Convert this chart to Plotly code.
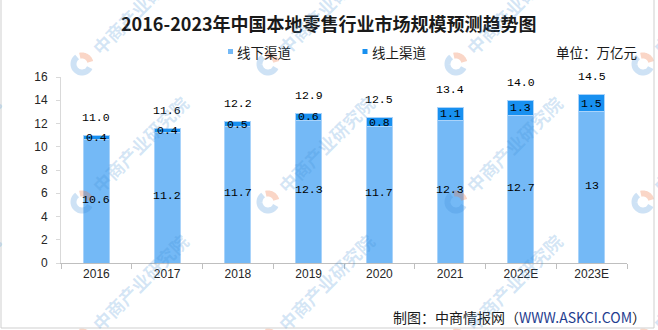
import math
import plotly.graph_objects as go

# ---- data (万亿元) ----
years = ["2016", "2017", "2018", "2019", "2020", "2021", "2022E", "2023E"]
offline = [10.6, 11.2, 11.7, 12.3, 11.7, 12.3, 12.7, 13]
online = [0.4, 0.4, 0.5, 0.6, 0.8, 1.1, 1.3, 1.5]
series_names = ["线下渠道", "线上渠道"]
y_ticks = [0, 2, 4, 6, 8, 10, 12, 14, 16]

# ---- canvas geometry ----
W, H = 658, 330
ML, MR, MT, MB = 61, 31, 77, 67
PW, PH = W - ML - MR, H - MT - MB

C_OFF = "#74b9f6"
C_ON = "#1890f0"
C_EDGE = "#a9d3fa"
TXT = "#1a1a1a"
LABEL_FONT = dict(family="Liberation Mono, DejaVu Sans Mono, monospace", size=11.5, color="#000000")
CJK = "Noto Sans CJK SC, Noto Sans, sans-serif"


def px(x):
    return (x - ML) / PW


def py(y):
    return (H - MB - y) / PH


fig = go.Figure()
fig.add_trace(go.Bar(x=years, y=offline, name=series_names[0], marker=dict(color=C_OFF, line=dict(color=C_EDGE, width=1)), showlegend=False))
fig.add_trace(go.Bar(x=years, y=online, name=series_names[1], marker=dict(color=C_ON, line=dict(color=C_EDGE, width=1)), showlegend=False))

annotations = []
shapes = []

# value labels (x given as category index)
for i, (a, b) in enumerate(zip(offline, online)):
    total = round(a + b, 1)
    annotations.append(dict(x=i, y=a / 2, xref="x", yref="y", text=f"{a:g}", showarrow=False,
                            font=LABEL_FONT, xanchor="center", yanchor="middle", yshift=2))
    annotations.append(dict(x=i, y=a + b / 2, xref="x", yref="y", text=f"{b:g}", showarrow=False,
                            font=LABEL_FONT, xanchor="center", yanchor="middle"))
    annotations.append(dict(x=i, y=total, xref="x", yref="y", text=f"{total:.1f}", showarrow=False,
                            font=LABEL_FONT, xanchor="center", yanchor="middle", yshift=18))

# title
annotations.append(dict(x=px(329), y=py(23), xref="paper", yref="paper", showarrow=False,
                        text="<b>2016-2023年中国本地零售行业市场规模预测趋势图</b>",
                        font=dict(family=CJK, size=18, color=TXT), xanchor="center", yanchor="middle"))

# legend (square + label) and unit
for sq_x, txt_x, name, col in [(228, 234.5, series_names[0], C_OFF), (362.5, 369.5, series_names[1], C_ON)]:
    shapes.append(dict(type="rect", xref="paper", yref="paper", x0=px(sq_x), x1=px(sq_x + 5),
                       y0=py(54), y1=py(49), fillcolor=col, line=dict(width=0)))
    annotations.append(dict(x=px(txt_x), y=py(51.7), xref="paper", yref="paper", text=name, showarrow=False,
                            font=dict(family=CJK, size=13.5, color=TXT), xanchor="left", yanchor="middle"))
annotations.append(dict(x=px(553.5), y=py(51.7), xref="paper", yref="paper", text="单位：万亿元", showarrow=False,
                        font=dict(family=CJK, size=13.5, color=TXT), xanchor="left", yanchor="middle"))

# source line
annotations.append(dict(x=px(648), y=py(316.5), xref="paper", yref="paper", showarrow=False,
                        text="制图：中商情报网（<span style='color:#1f3d8f'>WWW.ASKCI.COM</span>）",
                        font=dict(family=CJK, size=14, color=TXT), xanchor="right", yanchor="middle"))


# watermark tiles: logo ring + rotated text
def arc_path(cx, cy, r, a0, a1, n=24):
    pts = []
    for k in range(n + 1):
        a = math.radians(a0 + (a1 - a0) * k / n)
        pts.append((px(cx + r * math.cos(a)), py(cy - r * math.sin(a))))
    return "M " + " L ".join(f"{x:.5f},{y:.5f}" for x, y in pts)


for lx in [-106, 82, 268, 456, 643]:
    for ly in [64, 202, 340]:
        shapes.append(dict(type="path", xref="paper", yref="paper", path=arc_path(lx, ly, 8.5, 15, 105),
                           line=dict(color="rgba(240,120,70,0.30)", width=6), layer="above"))
        shapes.append(dict(type="path", xref="paper", yref="paper", path=arc_path(lx, ly, 8.5, 125, 335),
                           line=dict(color="rgba(60,140,215,0.25)", width=6), layer="above"))
        annotations.append(dict(x=px(lx + 58), y=py(ly - 58), xref="paper", yref="paper", text="<b>中商产业研究院</b>",
                                showarrow=False, textangle=-45, xanchor="center", yanchor="middle",
                                font=dict(family=CJK, size=18, color="rgba(60,140,210,0.22)")))

# outer frame
shapes.append(dict(type="rect", xref="paper", yref="paper", x0=px(1), x1=px(654), y0=py(328), y1=py(-2),
                   line=dict(color="#cfcfcf", width=1), fillcolor="rgba(0,0,0,0)", layer="above"))

fig.update_layout(
    width=W, height=H,
    margin=dict(l=ML, r=MR, t=MT, b=MB, pad=0),
    paper_bgcolor="white", plot_bgcolor="white",
    barmode="stack", bargap=0.63,
    showlegend=False,
    annotations=annotations,
    shapes=shapes,
    xaxis=dict(type="category", categoryorder="array", categoryarray=years, range=[-0.5, len(years) - 0.5],
               showline=True, linecolor="#bfbfbf", linewidth=1,
               ticks="outside", tickson="boundaries", ticklen=5, tickcolor="#bfbfbf",
               showgrid=False, tickfont=dict(family="Liberation Sans, Arial, sans-serif", size=12, color="#262626")),
    yaxis=dict(range=[0, 16], tickvals=y_ticks, showline=True, linecolor="#d9d9d9", linewidth=1,
               ticks="outside", ticklen=4, tickcolor="#d9d9d9", showgrid=False, zeroline=False,
               ticklabelstandoff=6,
               tickfont=dict(family="Liberation Sans, Arial, sans-serif", size=12, color="#262626")),
)

fig.write_html("out.html")
